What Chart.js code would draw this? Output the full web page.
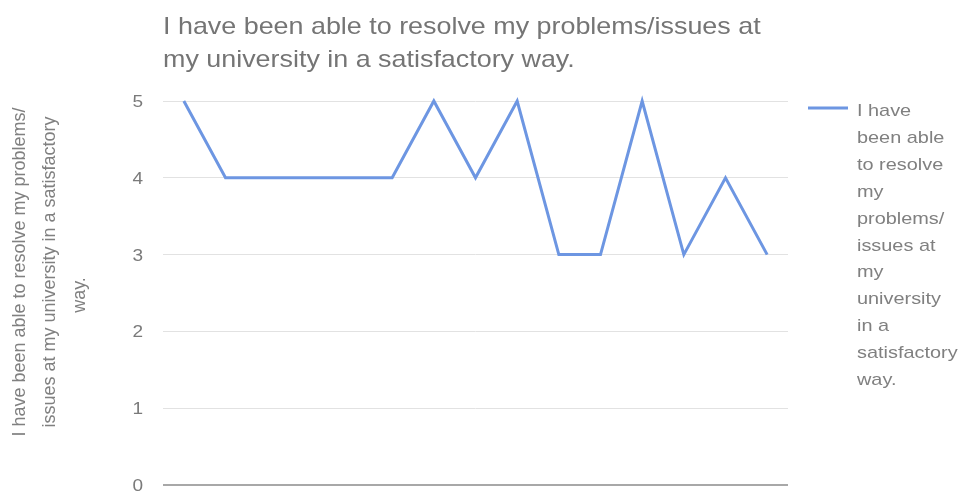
<!DOCTYPE html>
<html lang="en">
<head>
    <meta charset="UTF-8">
    <title>Resolving problems at university</title>
    <script src="https://cdn.jsdelivr.net/npm/chart.js@4.4.0/dist/chart.umd.min.js"></script>
    <style>
        html, body { margin: 0; padding: 0; background: #fff; }
        #wrap { width: 962px; height: 493px; }
    </style>
</head>
<body>
    <div id="wrap"><canvas id="myChart" width="962" height="493"></canvas></div>
    <script>
        // survey answers, one per respondent (1-5 scale)
        var respondents = ['1', '2', '3', '4', '5', '6', '7', '8', '9', '10', '11', '12', '13', '14', '15'];
        var answers = [5, 4, 4, 4, 4, 4, 5, 4, 5, 3, 3, 5, 3, 4, 3];
        var yTicks = [0, 1, 2, 3, 4, 5];

        var titleLines = ['I have been able to resolve my problems/issues at',
                          'my university in a satisfactory way.'];
        var yTitleLines = ['I have been able to resolve my problems/',
                           'issues at my university in a satisfactory',
                           'way.'];
        var seriesName = 'I have been able to resolve my problems/issues at my university in a satisfactory way.';
        var legendLines = ['I have', 'been able', 'to resolve', 'my', 'problems/', 'issues at',
                           'my', 'university', 'in a', 'satisfactory', 'way.'];

        var lineColor = '#6d96e2';
        var FONT = '"Liberation Sans", Arial, sans-serif';

        // text drawn slightly wider than normal
        function drawText(ctx, text, x, y, size, color, align, sx) {
            ctx.save();
            ctx.font = size + 'px ' + FONT;
            ctx.fillStyle = color;
            ctx.textBaseline = 'alphabetic';
            var w = ctx.measureText(text).width * sx;
            var left = align === 'right' ? x - w : (align === 'center' ? x - w / 2 : x);
            ctx.translate(left, y);
            ctx.scale(sx, 1);
            ctx.textAlign = 'left';
            ctx.fillText(text, 0, 0);
            ctx.restore();
        }

        var textPlugin = {
            id: 'textPlugin',
            afterDraw: function (chart) {
                var ctx = chart.ctx;
                var area = chart.chartArea;
                var y = chart.scales.y;

                // title
                titleLines.forEach(function (t, i) {
                    drawText(ctx, t, area.left, 34 + i * 33, 24, '#757575', 'left', 1.12);
                });

                // y tick labels
                yTicks.forEach(function (v) {
                    drawText(ctx, String(v), 143, y.getPixelForValue(v) + 6, 17, '#7a7a7a', 'right', 1.12);
                });

                // rotated axis title, last short line sits a bit lower
                ctx.save();
                ctx.font = '18px ' + FONT;
                ctx.fillStyle = '#808080';
                ctx.textAlign = 'center';
                ctx.textBaseline = 'middle';
                yTitleLines.forEach(function (t, i) {
                    ctx.save();
                    ctx.translate(20 + i * 30, i === 2 ? 295 : 272);
                    ctx.rotate(-Math.PI / 2);
                    ctx.fillText(t, 0, 0);
                    ctx.restore();
                });
                ctx.restore();

                // legend
                ctx.save();
                ctx.strokeStyle = lineColor;
                ctx.lineWidth = 3;
                ctx.beginPath();
                ctx.moveTo(808, 108);
                ctx.lineTo(848, 108);
                ctx.stroke();
                ctx.restore();
                legendLines.forEach(function (t, i) {
                    drawText(ctx, t, 857, 116 + i * 26.9, 17, '#808080', 'left', 1.17);
                });
            }
        };

        var ctx = document.getElementById('myChart').getContext('2d');
        var myChart = new Chart(ctx, {
            type: 'line',
            data: {
                labels: respondents,
                datasets: [{
                    label: seriesName,
                    data: answers,
                    borderColor: lineColor,
                    borderWidth: 3,
                    pointRadius: 0,
                    tension: 0,
                    fill: false,
                    clip: false
                }]
            },
            options: {
                responsive: false,
                animation: false,
                layout: { padding: { left: 0, right: 174, top: 101, bottom: 8 } },
                plugins: {
                    legend: { display: false },
                    title: { display: false },
                    tooltip: { enabled: false }
                },
                scales: {
                    x: {
                        display: false,
                        offset: true
                    },
                    y: {
                        min: 0,
                        max: 5,
                        ticks: { stepSize: 1, display: false },
                        border: { display: false },
                        grid: {
                            drawTicks: false,
                            color: function (c) { return c.tick && c.tick.value === 0 ? '#a8a8a8' : '#e2e2e2'; },
                            lineWidth: function (c) { return c.tick && c.tick.value === 0 ? 2 : 1; }
                        },
                        afterFit: function (scale) { scale.width = 163; }
                    }
                }
            },
            plugins: [textPlugin]
        });
    </script>
</body>
</html>
